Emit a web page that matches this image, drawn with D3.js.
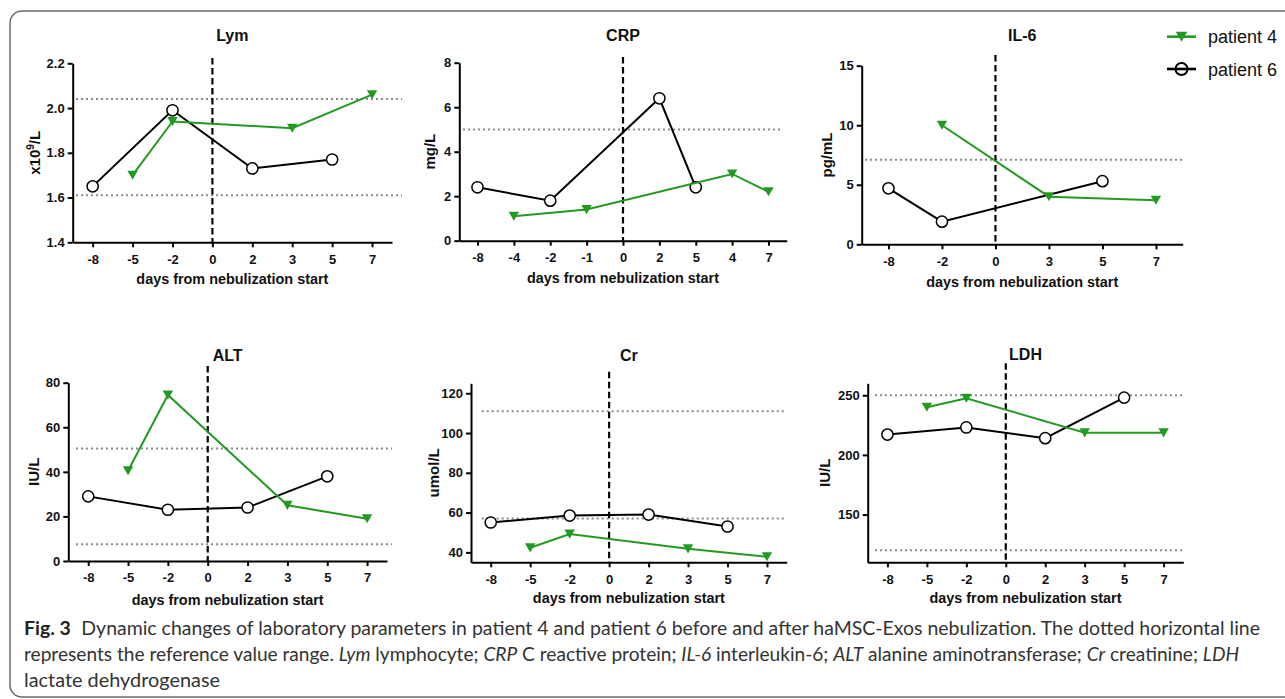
<!DOCTYPE html>
<html><head><meta charset="utf-8">
<script src="https://cdn.jsdelivr.net/npm/d3@7"></script>
<style>
html,body{margin:0;padding:0;background:#fff;}
svg{display:block;}
.axis path,.axis line{stroke:#000;stroke-width:2;}
.axis text{font-family:"Liberation Sans",Arial,sans-serif;font-weight:bold;font-size:13px;fill:#111;}
</style></head><body>
<svg id="chart" width="1285" height="699"></svg>
<script>
// ---------- DATA ----------
const seriesNames = ["patient 4", "patient 6"];

const lymDays   = ["-8","-5","-2","0","2","3","5","7"];
const lymP4Days = ["-5","-2","3","7"];
const lymP4     = [1.70, 1.94, 1.91, 2.06];
const lymP6Days = ["-8","-2","2","5"];
const lymP6     = [1.65, 1.99, 1.73, 1.77];
const lymRef    = [1.61, 2.04];
const lymTicks  = [1.4, 1.6, 1.8, 2.0, 2.2];

const crpDays   = ["-8","-4","-2","-1","0","2","5","4","7"];
const crpP4Days = ["-4","-1","4","7"];
const crpP4     = [1.1, 1.4, 3.0, 2.2];
const crpP6Days = ["-8","-2","2","5"];
const crpP6     = [2.4, 1.8, 6.4, 2.4];
const crpRef    = [5];
const crpTicks  = [0, 2, 4, 6, 8];

const il6Days   = ["-8","-2","0","3","5","7"];
const il6P4Days = ["-2","3","7"];
const il6P4     = [10.0, 4.0, 3.7];
const il6P6Days = ["-8","-2","5"];
const il6P6     = [4.7, 1.9, 5.3];
const il6Ref    = [7.1];
const il6Ticks  = [0, 5, 10, 15];

const altDays   = ["-8","-5","-2","0","2","3","5","7"];
const altP4Days = ["-5","-2","3","7"];
const altP4     = [40.5, 74.5, 25, 19];
const altP6Days = ["-8","-2","2","5"];
const altP6     = [29, 23, 24, 38];
const altRef    = [7.5, 50.5];
const altTicks  = [0, 20, 40, 60, 80];

const crDays    = ["-8","-5","-2","0","2","3","5","7"];
const crP4Days  = ["-5","-2","3","7"];
const crP4      = [42.3, 49.2, 41.8, 37.8];
const crP6Days  = ["-8","-2","2","5"];
const crP6      = [55, 58.5, 59, 53];
const crRef     = [57, 111];
const crTicks   = [40, 60, 80, 100, 120];

const ldhDays   = ["-8","-5","-2","0","2","3","5","7"];
const ldhP4Days = ["-5","-2","3","7"];
const ldhP4     = [240, 247.5, 218.5, 218.5];
const ldhP6Days = ["-8","-2","2","5"];
const ldhP6     = [217, 223, 214, 248];
const ldhRef    = [120, 250];
const ldhTicks  = [150, 200, 250];

const xTitle = "days from nebulization start";

// ---------- LAYOUT ----------
const panels = [
  {title:"Lym", unit:["x10","9","/L"], days:lymDays, p4d:lymP4Days, p4:lymP4, p6d:lymP6Days, p6:lymP6, refs:lymRef, ticks:lymTicks, fmt:".1f",
   domain:[1.4,2.2], x0:72.7, x1:392, yTop:63.3, yBot:242.3, dashTop:58, refX:[76,402], yLabelX:35, titleY:40.7, xLabY:283.5},
  {title:"CRP", unit:["mg/L"], days:crpDays, p4d:crpP4Days, p4:crpP4, p6d:crpP6Days, p6:crpP6, refs:crpRef, ticks:crpTicks, fmt:"d",
   domain:[0,8], x0:459.3, x1:786.7, yTop:62.7, yBot:240.7, dashTop:57, refX:[463,783], yLabelX:430, titleY:40.7, xLabY:283},
  {title:"IL-6", unit:["pg/mL"], days:il6Days, p4d:il6P4Days, p4:il6P4, p6d:il6P6Days, p6:il6P6, refs:il6Ref, ticks:il6Ticks, fmt:"d",
   domain:[0,15], x0:861.7, x1:1182.7, yTop:65.7, yBot:244.3, dashTop:55, refX:[865,1184], yLabelX:826.7, titleY:40.7, xLabY:286.5},
  {title:"ALT", unit:["IU/L"], days:altDays, p4d:altP4Days, p4:altP4, p6d:altP6Days, p6:altP6, refs:altRef, ticks:altTicks, fmt:"d",
   domain:[0,80], x0:68.3, x1:387, yTop:382.7, yBot:561, dashTop:366, refX:[76,392], yLabelX:33.3, titleY:360.7, xLabY:604.5},
  {title:"Cr", unit:["umol/L"], days:crDays, p4d:crP4Days, p4:crP4, p6d:crP6Days, p6:crP6, refs:crRef, ticks:crTicks, fmt:"d",
   domain:[35,125], x0:471, x1:786.7, yTop:383.3, yBot:562.3, dashTop:371.7, refX:[481.7,786.7], yLabelX:433.3, titleY:360.7, xLabY:603},
  {title:"LDH", unit:["IU/L"], days:ldhDays, p4d:ldhP4Days, p4:ldhP4, p6d:ldhP6Days, p6:ldhP6, refs:ldhRef, ticks:ldhTicks, fmt:"d",
   domain:[110,260], x0:867.7, x1:1183.3, yTop:383.3, yBot:562.3, dashTop:363.3, refX:[875,1183], yLabelX:825, titleY:359.7, xLabY:603}
];

const GREEN = "#229a22";
const FONT = '"Liberation Sans", Arial, sans-serif';
const svg = d3.select("#chart");
svg.append("rect").attr("width",1285).attr("height",699).attr("fill","#fff");

// figure border
svg.append("rect").attr("x",10).attr("y",11).attr("width",1300).attr("height",686).attr("rx",12)
  .attr("fill","none").attr("stroke","#6a6a6a").attr("stroke-width",1.5);

const triPath = "M-5.2,-4.5L5.2,-4.5L0,4.6Z";

function drawPanel(p){
  const x = d3.scalePoint().domain(p.days).range([p.x0, p.x1]).padding(0.5);
  const y = d3.scaleLinear().domain(p.domain).range([p.yBot, p.yTop]);
  const g = svg.append("g");

  // reference range lines
  g.selectAll(".ref").data(p.refs).join("line")
    .attr("x1", p.refX[0]).attr("x2", p.refX[1])
    .attr("y1", d => y(d)).attr("y2", d => y(d))
    .attr("stroke","#8a8a8a").attr("stroke-width",2).attr("stroke-dasharray","2,3");

  // axes
  g.append("g").attr("class","axis").attr("transform",`translate(0,${p.yBot})`)
    .call(d3.axisBottom(x).tickSize(5).tickSizeOuter(0).tickPadding(7));
  g.append("g").attr("class","axis").attr("transform",`translate(${p.x0},0)`)
    .call(d3.axisLeft(y).tickValues(p.ticks).tickFormat(d3.format(p.fmt)).tickSize(5).tickSizeOuter(0).tickPadding(3));

  // start of nebulization
  g.append("line").attr("x1", x("0")).attr("x2", x("0")).attr("y1", p.dashTop).attr("y2", p.yBot)
    .attr("stroke","#000").attr("stroke-width",2.2).attr("stroke-dasharray","6.5,3.5");

  const line = d3.line().x(d => x(d[0])).y(d => y(d[1]));

  // patient 6
  const s6 = p.p6d.map((d,i) => [d, p.p6[i]]);
  g.append("path").datum(s6).attr("d", line).attr("fill","none").attr("stroke","#000").attr("stroke-width",2);
  g.selectAll(".c6").data(s6).join("circle")
    .attr("cx", d => x(d[0])).attr("cy", d => y(d[1])).attr("r",5.6)
    .attr("fill","#fff").attr("stroke","#000").attr("stroke-width",1.5);

  // patient 4
  const s4 = p.p4d.map((d,i) => [d, p.p4[i]]);
  g.append("path").datum(s4).attr("d", line).attr("fill","none").attr("stroke",GREEN).attr("stroke-width",2);
  g.selectAll(".t4").data(s4).join("path")
    .attr("d", triPath).attr("transform", d => `translate(${x(d[0])},${y(d[1])})`).attr("fill",GREEN);

  // titles / labels
  const cx = (p.x0 + p.x1) / 2;
  g.append("text").attr("x", cx).attr("y", p.titleY).attr("text-anchor","middle")
    .style("font-family",FONT).style("font-weight","bold").style("font-size","16px").attr("fill","#111").text(p.title);
  g.append("text").attr("x", cx).attr("y", p.xLabY).attr("text-anchor","middle")
    .attr("textLength",192).attr("lengthAdjust","spacingAndGlyphs")
    .style("font-family",FONT).style("font-weight","bold").style("font-size","15px").attr("fill","#111").text(xTitle);
  const yl = g.append("text").attr("transform",`translate(${p.yLabelX},${(p.yTop+p.yBot)/2}) rotate(-90)`)
    .attr("text-anchor","middle").attr("dy","0.36em")
    .style("font-family",FONT).style("font-weight","bold").style("font-size","15px").attr("fill","#111");
  if (p.unit.length === 3){
    yl.append("tspan").text(p.unit[0]);
    yl.append("tspan").attr("dy",-6).style("font-size","10px").text(p.unit[1]);
    yl.append("tspan").attr("dy",6).text(p.unit[2]);
  } else {
    yl.text(p.unit[0]);
  }
}
panels.forEach(drawPanel);

// legend
const lg = svg.append("g");
const legY = [36.7, 69];
seriesNames.forEach((name, i) => {
  const col = i === 0 ? GREEN : "#000";
  lg.append("line").attr("x1",1167).attr("x2",1196).attr("y1",legY[i]).attr("y2",legY[i])
    .attr("stroke",col).attr("stroke-width",2.6);
  if (i === 0) {
    lg.append("path").attr("d", triPath).attr("transform",`translate(1181.5,${legY[i]}) scale(1.1)`).attr("fill",GREEN);
  } else {
    lg.append("circle").attr("cx",1181.5).attr("cy",legY[i]).attr("r",6).attr("fill","none").attr("stroke","#000").attr("stroke-width",2);
  }
  lg.append("text").attr("x",1208).attr("y",legY[i]+6.5)
    .style("font-family",FONT).style("font-size","18px").attr("fill","#111").text(name);
});

// caption
const capFont = 'Lato, "Open Sans", "Noto Sans", sans-serif';
const cap = svg.append("g").attr("fill","#333").style("font-family",capFont).style("font-size","18.5px");
const l1 = cap.append("text").attr("x",24).attr("y",635).attr("textLength",1236).attr("lengthAdjust","spacingAndGlyphs");
l1.append("tspan").style("font-weight","bold").attr("fill","#222").text("Fig. 3");
l1.append("tspan").attr("dx",10).text("Dynamic changes of laboratory parameters in patient 4 and patient 6 before and after haMSC-Exos nebulization. The dotted horizontal line");

const l2parts = [
  ["represents the reference value range. ", false], ["Lym", true], [" lymphocyte; ", false],
  ["CRP", true], [" C reactive protein; ", false], ["IL-6", true], [" interleukin-6; ", false],
  ["ALT", true], [" alanine aminotransferase; ", false], ["Cr", true], [" creatinine; ", false], ["LDH", true]
];
const l2 = cap.append("text").attr("x",24).attr("y",661).attr("textLength",1215).attr("lengthAdjust","spacingAndGlyphs")
  .attr("xml:space","preserve").style("white-space","pre");
l2parts.forEach(([t, it]) => l2.append("tspan").style("font-style", it ? "italic" : "normal").text(t));

cap.append("text").attr("x",24).attr("y",687).attr("textLength",196).attr("lengthAdjust","spacingAndGlyphs").text("lactate dehydrogenase");
</script>
</body></html>
